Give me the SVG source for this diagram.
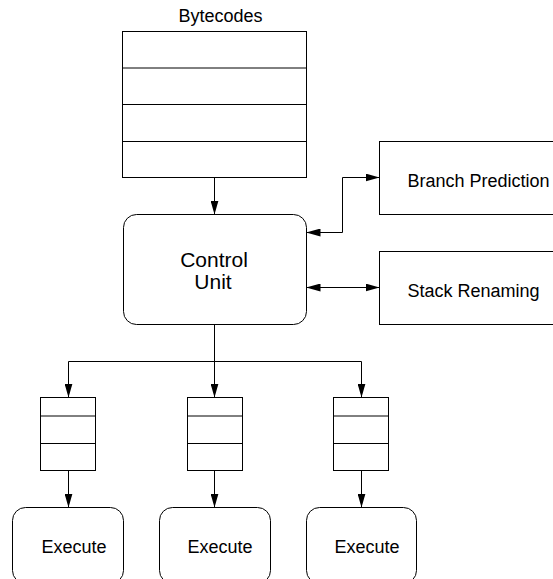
<svg xmlns="http://www.w3.org/2000/svg" width="553" height="579" viewBox="0 0 553 579">
<defs>
<marker id="ah" markerWidth="14" markerHeight="8" refX="14" refY="4" orient="auto-start-reverse" markerUnits="userSpaceOnUse">
<path d="M0,0 L14,4 L0,8 Z" fill="#000"/>
</marker>
<style>
.box{fill:#fff;stroke:#000;stroke-width:1}
.ln{fill:none;stroke:#000;stroke-width:1}
.t{font-family:"Liberation Sans",Arial,sans-serif;font-size:18px;fill:#000}
.tc{font-family:"Liberation Sans",Arial,sans-serif;font-size:21px;fill:#000;text-anchor:middle}
</style>
</defs>
<rect width="553" height="579" fill="#fff"/>
<g id="connectors">
<line class="ln" x1="214.5" y1="177.5" x2="214.5" y2="214.5" marker-end="url(#ah)"/>
<polyline class="ln" points="306.5,232.5 342.5,232.5 342.5,177.5 379.5,177.5" marker-start="url(#ah)" marker-end="url(#ah)"/>
<line class="ln" x1="306.5" y1="287.5" x2="379.5" y2="287.5" marker-start="url(#ah)" marker-end="url(#ah)"/>
<line class="ln" x1="214.5" y1="324.5" x2="214.5" y2="361"/>
<polyline class="ln" points="68.5,397.5 68.5,361.5 361.5,361.5 361.5,397.5" marker-start="url(#ah)" marker-end="url(#ah)"/>
<line class="ln" x1="214.5" y1="361.5" x2="214.5" y2="397.5" marker-end="url(#ah)"/>
<line class="ln" x1="68.5" y1="470.5" x2="68.5" y2="507.5" marker-end="url(#ah)"/>
<line class="ln" x1="214.5" y1="470.5" x2="214.5" y2="507.5" marker-end="url(#ah)"/>
<line class="ln" x1="361.5" y1="470.5" x2="361.5" y2="507.5" marker-end="url(#ah)"/>
</g>
<g id="bytecodes">
<text class="t" x="220.5" y="21.5" text-anchor="middle">Bytecodes</text>
<rect class="box" x="122.5" y="31.5" width="184" height="146"/>
<line class="ln" x1="122.5" y1="68" x2="306.5" y2="68"/>
<line class="ln" x1="122.5" y1="104.5" x2="306.5" y2="104.5"/>
<line class="ln" x1="122.5" y1="141.5" x2="306.5" y2="141.5"/>
</g>
<g id="control-unit">
<rect class="box" x="123.5" y="214.5" width="183" height="110" rx="13" ry="13"/>
<text class="tc" x="214" y="266.5">Control</text>
<text class="tc" x="213" y="289">Unit</text>
</g>
<g id="branch-prediction">
<rect class="box" x="379.5" y="141.5" width="190" height="73"/>
<text class="t" x="407.5" y="186.5">Branch Prediction</text>
</g>
<g id="stack-renaming">
<rect class="box" x="379.5" y="251.5" width="190" height="73"/>
<text class="t" x="407.5" y="296.5">Stack Renaming</text>
</g>
<g id="queue1">
<rect class="box" x="40.5" y="397.5" width="55" height="73"/>
<line class="ln" x1="40.5" y1="416" x2="95.5" y2="416"/>
<line class="ln" x1="40.5" y1="443.5" x2="95.5" y2="443.5"/>
</g>
<g id="queue2">
<rect class="box" x="187.5" y="397.5" width="55" height="73"/>
<line class="ln" x1="187.5" y1="416" x2="242.5" y2="416"/>
<line class="ln" x1="187.5" y1="443.5" x2="242.5" y2="443.5"/>
</g>
<g id="queue3">
<rect class="box" x="333.5" y="397.5" width="55" height="73"/>
<line class="ln" x1="333.5" y1="416" x2="388.5" y2="416"/>
<line class="ln" x1="333.5" y1="443.5" x2="388.5" y2="443.5"/>
</g>
<g id="execute1">
<rect class="box" x="12.5" y="507.5" width="111" height="76" rx="13" ry="13"/>
<text class="t" x="74" y="552.5" text-anchor="middle">Execute</text>
</g>
<g id="execute2">
<rect class="box" x="159.5" y="507.5" width="111" height="76" rx="13" ry="13"/>
<text class="t" x="220" y="552.5" text-anchor="middle">Execute</text>
</g>
<g id="execute3">
<rect class="box" x="306.5" y="507.5" width="110" height="76" rx="13" ry="13"/>
<text class="t" x="367" y="552.5" text-anchor="middle">Execute</text>
</g>
</svg>
